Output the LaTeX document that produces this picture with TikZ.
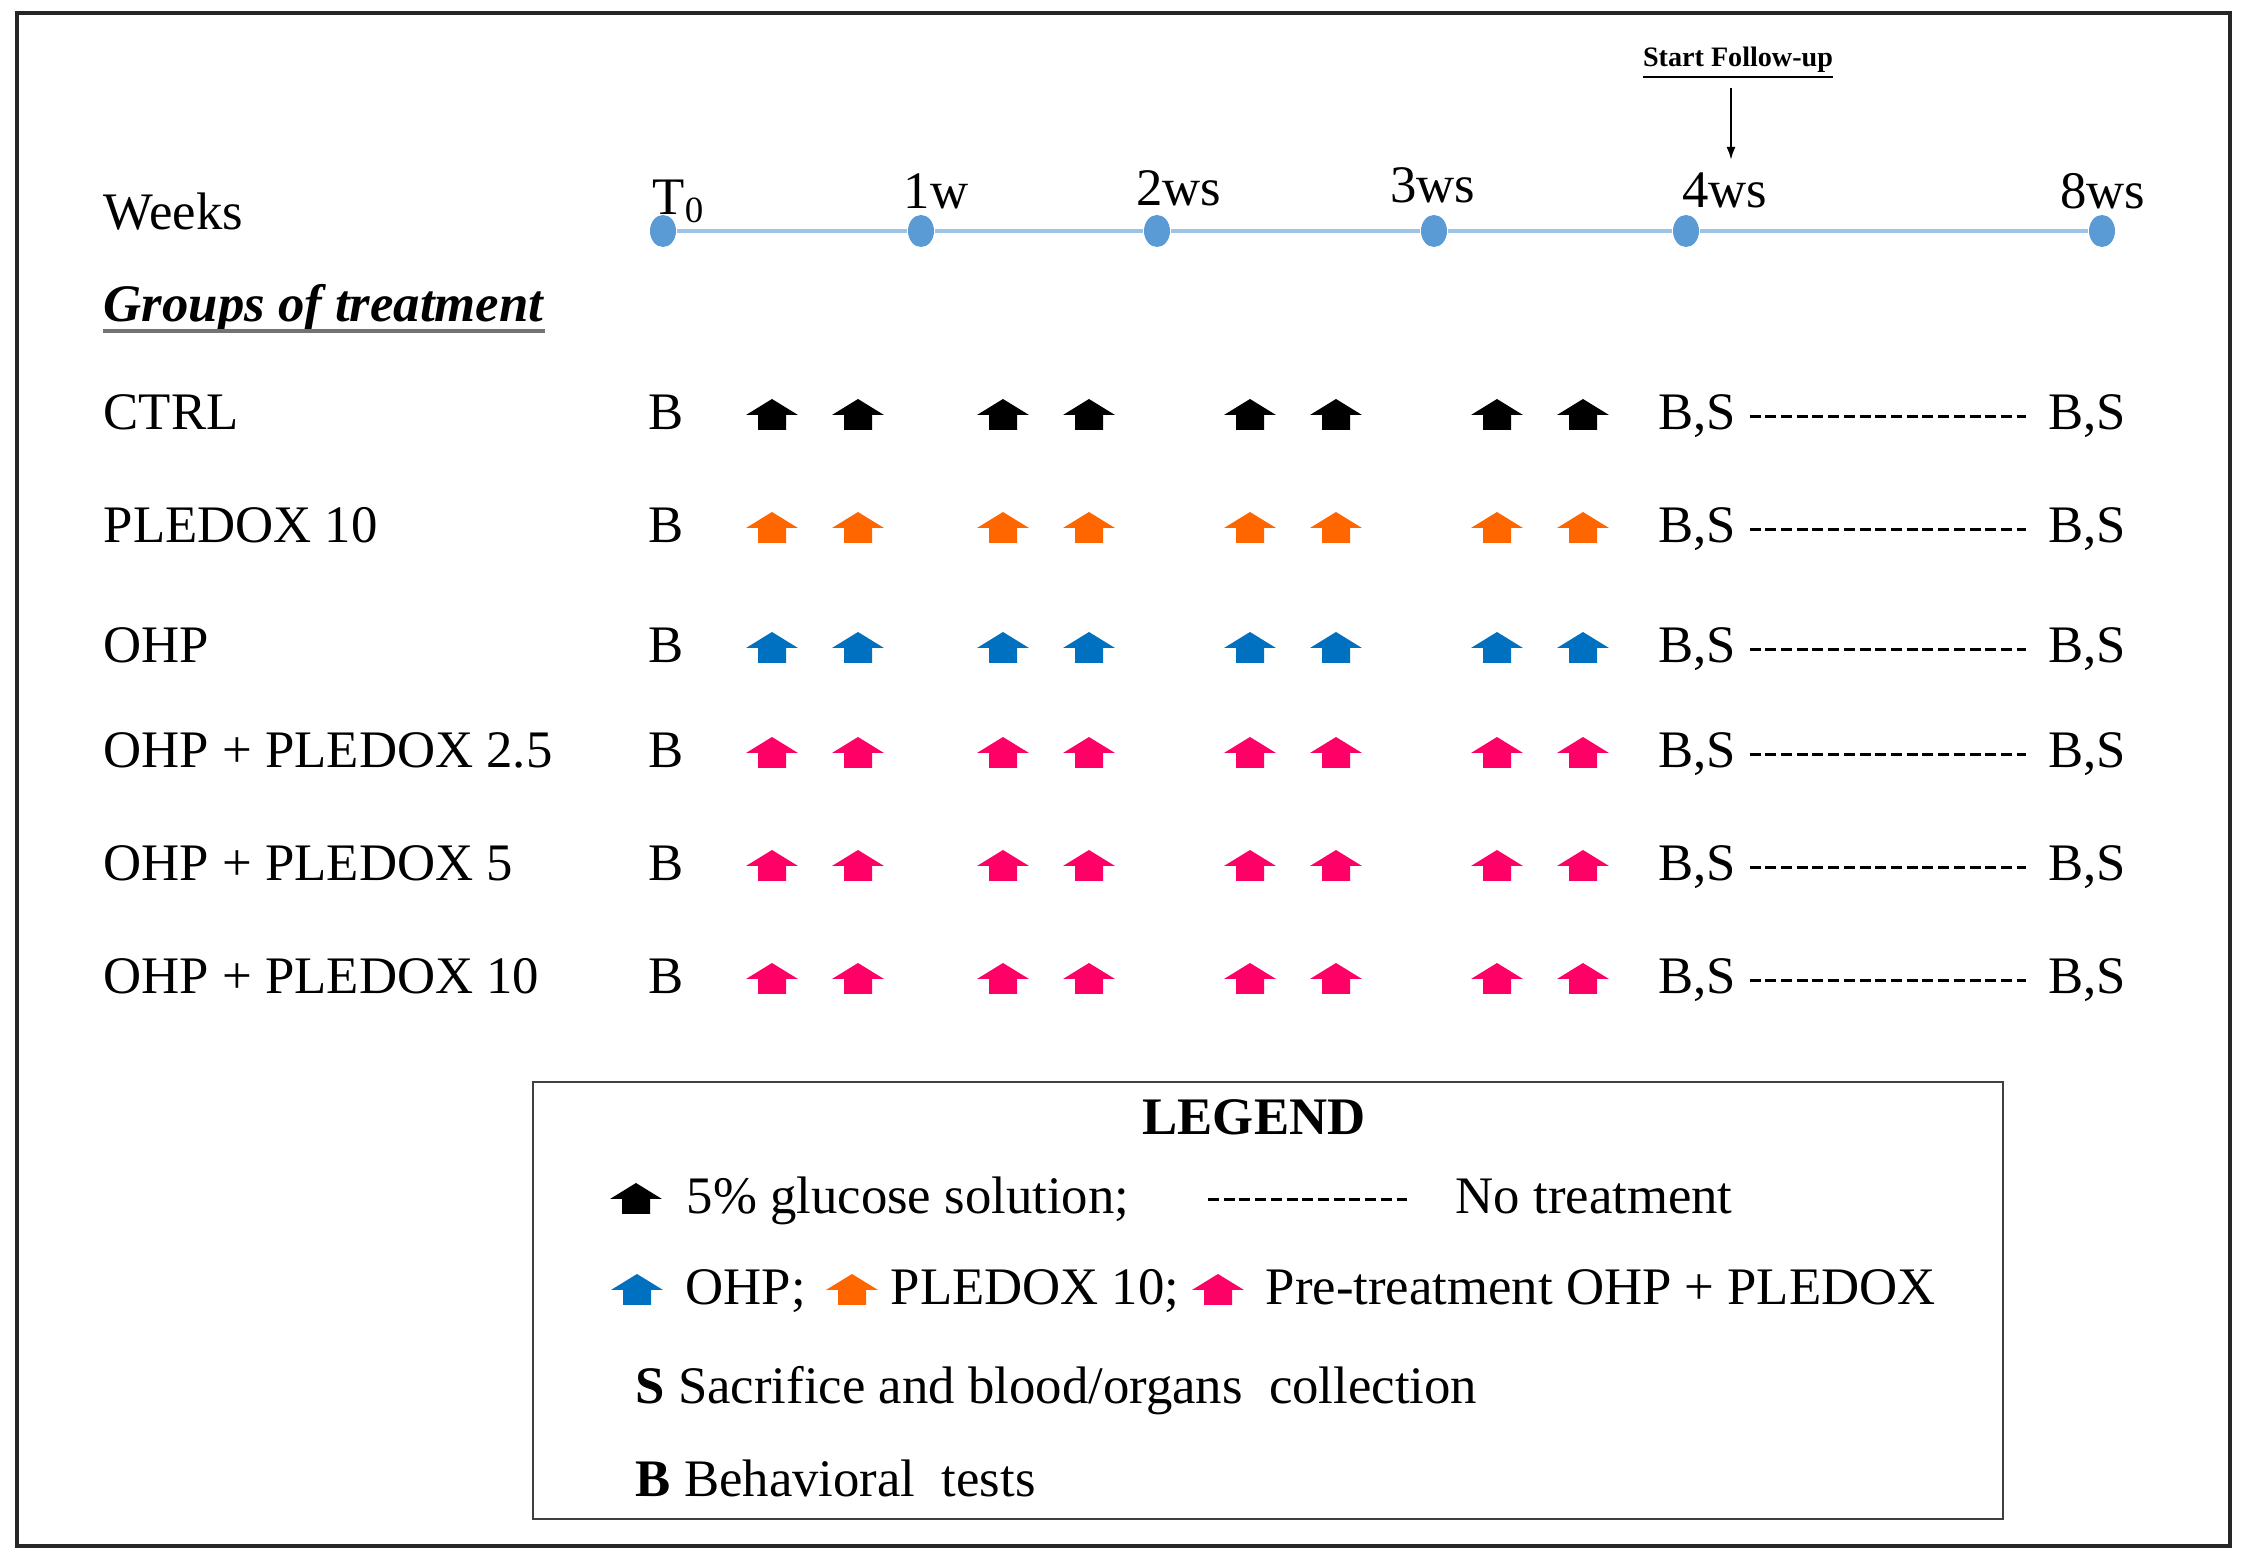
\documentclass[tikz,border=0pt]{standalone}
\usepackage{fontspec}
\setmainfont{Liberation Serif}
\usetikzlibrary{shapes.geometric,arrows.meta}

\definecolor{dotB}{RGB}{91,155,213}
\definecolor{lineB}{RGB}{157,195,230}
\definecolor{pOrange}{RGB}{255,102,0}
\definecolor{pBlue}{RGB}{0,112,192}
\definecolor{pPink}{RGB}{255,0,102}

\newcommand{\rowfont}{\fontsize{15}{18}\selectfont}
% up arrow, bottom centre at (#1,#2)
\newcommand{\uA}[3]{\fill[#3] (#1-14,#2) -- (#1+14,#2) -- (#1+14,#2+15) -- (#1+26,#2+15) -- (#1,#2+31) -- (#1-26,#2+15) -- (#1-14,#2+15) -- cycle;}

\tikzstyle{wS}=[ellipse,fill=dotB,minimum width=0.26cm,minimum height=0.32cm,inner sep=0pt]
\tikzstyle{kS}=[inner sep=0pt,anchor=base,font=\rowfont]
\tikzstyle{lS}=[line width=1.2pt,draw=lineB]
\tikzstyle{gS}=[inner sep=0pt,anchor=base west,font=\rowfont]
\tikzstyle{bS}=[inner sep=0pt,anchor=base,font=\rowfont]
\tikzstyle{dS}=[line width=0.85pt,dash pattern=on 0.11cm off 0.047cm]
\tikzstyle{fS}=[inner sep=0pt,font=\fontsize{8}{9}\selectfont\bfseries]
\tikzstyle{aS}=[line width=0.6pt,-{Latex[length=0.13cm,width=0.09cm]}]
\tikzstyle{legS}=[draw=black!75,line width=0.6pt,minimum width=14.7cm,minimum height=4.37cm,inner sep=0pt]

\begin{document}
\begin{tikzpicture}[x=0.01cm,y=0.01cm]
    \useasboundingbox (0,0) rectangle (2247,1560);
    \draw[black!85,line width=0.9pt] (17,14) rectangle (2230,1547);

    % time line
    \draw (663,1329) node[wS] (w0) {};
    \draw (921,1329) node[wS] (w1) {};
    \draw (1157,1329) node[wS] (w2) {};
    \draw (1434,1329) node[wS] (w3) {};
    \draw (1686,1329) node[wS] (w4) {};
    \draw (2102,1329) node[wS] (w5) {};
    \path
        (w0) edge[lS] (w1)
        (w1) edge[lS] (w2)
        (w2) edge[lS] (w3)
        (w3) edge[lS] (w4)
        (w4) edge[lS] (w5)
    ;
    \draw (652,1345) node[kS,anchor=base west] (l0) {T\textsubscript{0}};
    \draw (936,1351) node[kS] (l1) {1w};
    \draw (1179,1354) node[kS] (l2) {2ws};
    \draw (1433,1357) node[kS] (l3) {3ws};
    \draw (1725,1352) node[kS] (l4) {4ws};
    \draw (2103,1351) node[kS] (l5) {8ws};

    \draw (1738,1497) node[fS] (sfu) {\underline{Start Follow-up}};
    \coordinate (w4a) at (1731,1400);
    \draw[aS,shorten <=0.08cm] (sfu.south -| w4a) -- (w4a);

    \draw (103,1330) node[gS] (wk) {Weeks};
    \draw (103,1238) node[gS] (gt) {\textbf{\textit{Groups of treatment}}};
    \draw[black!55,line width=0.9pt] ([yshift=-0.09cm]gt.base west) -- ([yshift=-0.09cm]gt.base east);

    % groups
    \foreach \yy/\cc/\gg/\nn in {1130/black/CTRL/ctrl, 1017/pOrange/PLEDOX 10/ple,
        897/pBlue/OHP/ohp, 792/pPink/OHP + PLEDOX 2.5/opa, 679/pPink/OHP + PLEDOX 5/opb,
        566/pPink/OHP + PLEDOX 10/opc}{
        \draw (103,\yy) node[gS] (g\nn) {\gg};
        \draw (666,\yy) node[bS] (b\nn) {B};
        \foreach \xx in {772,858,1003,1089,1250,1336,1497,1583} \uA{\xx}{\yy}{\cc};
        \draw (1697,\yy) node[bS] (s\nn) {B,S};
        \draw (2087,\yy) node[bS] (e\nn) {B,S};
        \path (s\nn) edge[dS,shorten <=0.13cm,shorten >=0.21cm] (e\nn);
    }

    % legend
    \draw (1268,259.5) node[legS] (leg) {};
    \draw (1254,425) node[bS] (lh) {\textbf{LEGEND}};
    \uA{636}{346}{black}
    \draw (686,346) node[gS] (lg1) {5\% glucose solution;};
    \coordinate (nt1) at (1208,360);
    \coordinate (nt2) at (1407,360);
    \path (nt1) edge[dS] (nt2);
    \draw (1455,346) node[gS] (lg2) {No treatment};
    \uA{637}{255}{pBlue}
    \draw (685,255) node[gS] (lg3) {OHP;};
    \uA{852}{255}{pOrange}
    \draw (890,255) node[gS] (lg4) {PLEDOX 10;};
    \uA{1218}{255}{pPink}
    \draw (1265,255) node[gS] (lg5) {Pre-treatment OHP + PLEDOX};
    \draw (635,156) node[gS] (lg6) {\textbf{S} Sacrifice and blood/organs\ \ collection};
    \draw (635,63) node[gS] (lg7) {\textbf{B} Behavioral\ \ tests};
\end{tikzpicture}
\end{document}
